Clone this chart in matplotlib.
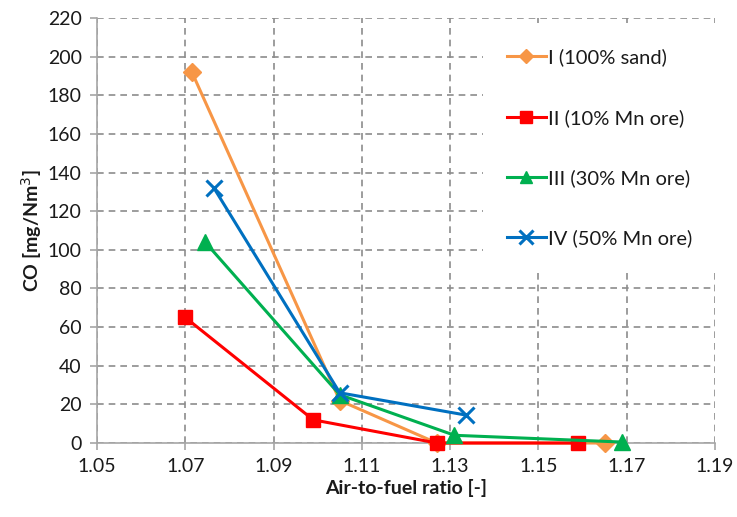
import matplotlib
matplotlib.use("Agg")
import matplotlib.pyplot as plt

plt.rcParams['font.family'] = ['Lato', 'DejaVu Sans']

x_I = [1.0715, 1.105, 1.127, 1.165]
y_I = [192, 22, 0, 0]
x_II = [1.070, 1.099, 1.127, 1.159]
y_II = [65, 12, 0, 0]
x_III = [1.0745, 1.105, 1.131, 1.169]
y_III = [104, 25, 4, 0.5]
x_IV = [1.0765, 1.105, 1.1335]
y_IV = [132, 26, 14.5]

labels = ["I (100% sand)", "II (10% Mn ore)", "III (30% Mn ore)", "IV (50% Mn ore)"]
xticks = [1.05, 1.07, 1.09, 1.11, 1.13, 1.15, 1.17, 1.19]
yticks = list(range(0, 221, 20))

fig = plt.figure(figsize=(7.37, 5.17), dpi=100)
ax = fig.add_axes([0.1316, 0.1431, 0.8384, 0.822])

ax.plot(x_I, y_I, color='#F79646', lw=2.2, marker='D', ms=9, label=labels[0], zorder=3, clip_on=False)
ax.plot(x_II, y_II, color='#FF0000', lw=2.2, marker='s', ms=10, label=labels[1], zorder=3, clip_on=False)
ax.plot(x_III, y_III, color='#00B050', lw=2.2, marker='^', ms=11, label=labels[2], zorder=3, clip_on=False)
ax.plot(x_IV, y_IV, color='#0070C0', lw=2.2, marker='x', ms=12, mew=2.2, label=labels[3], zorder=4, clip_on=False)

ax.set_xlim(1.05, 1.19)
ax.set_ylim(0, 220)
ax.set_xticks(xticks)
ax.set_xticklabels([f"{v:.2f}" for v in xticks])
ax.set_yticks(yticks)
ax.grid(True, color='#8c8c8c', ls=(0, (4, 3)), lw=1.2)
ax.set_axisbelow(True)
for s in ['top', 'right']:
    ax.spines[s].set_visible(False)
for s in ['left', 'bottom']:
    ax.spines[s].set_color('#a6a6a6')
    ax.spines[s].set_linewidth(1.2)
ax.tick_params(axis='both', colors='#a6a6a6', length=5, width=1.2, labelsize=14,
               labelcolor='#1a1a1a', pad=6)

ax.set_xlabel("Air-to-fuel ratio [-]", fontsize=14, fontweight='bold', color='#1a1a1a', labelpad=3)
ax.set_ylabel("CO [mg/Nm$^3$]", fontsize=14, fontweight='bold', color='#1a1a1a', labelpad=3)

leg = ax.legend(loc='upper left', bbox_to_anchor=(0.625, 0.985), frameon=True, fancybox=False,
                edgecolor='none', facecolor='white', framealpha=1, fontsize=14.5,
                labelspacing=2.1, handlelength=1.9, handletextpad=0.1, borderpad=1.2,
                borderaxespad=0, markerscale=0.8)
leg.set_zorder(5)
for t in leg.get_texts():
    t.set_color('#1a1a1a')

fig.savefig("out.png", dpi=100)
